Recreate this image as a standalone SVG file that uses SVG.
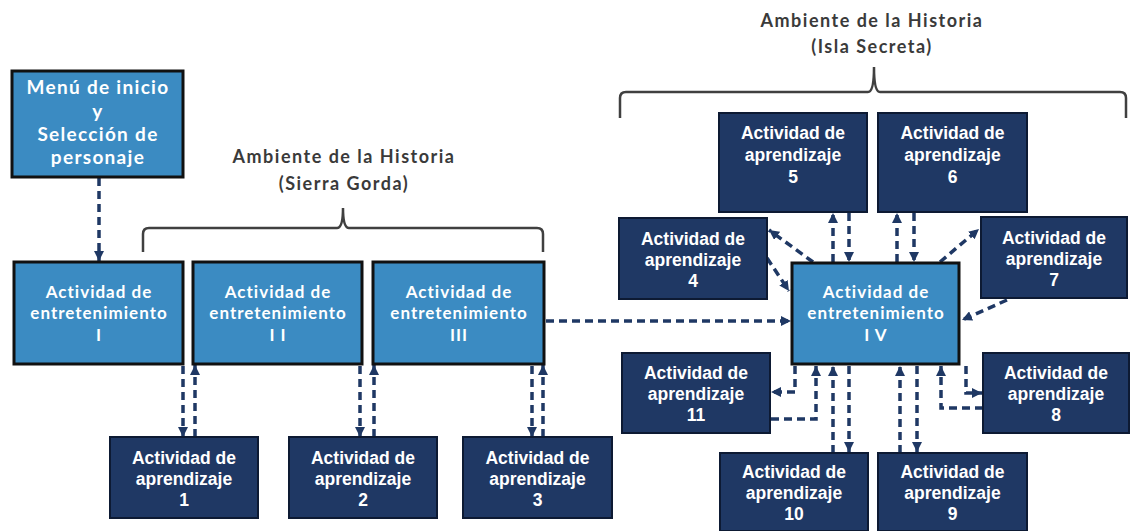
<svg xmlns="http://www.w3.org/2000/svg" width="1130" height="531" viewBox="0 0 1130 531">
<style>
.ent{fill:#3b8bc2;stroke:#111;stroke-width:3}
.apr{fill:#1f3864;stroke:#0d1a33;stroke-width:2}
.te{font-family:Lato,"Liberation Sans",sans-serif;font-weight:bold;font-size:17px;letter-spacing:1px;fill:#fff;text-anchor:middle}
.tm{font-family:Lato,"Liberation Sans",sans-serif;font-weight:bold;font-size:19px;letter-spacing:1.3px;fill:#fff;text-anchor:middle}
.ta{font-family:"Liberation Sans",Arial,sans-serif;font-weight:bold;font-size:17.5px;fill:#fff;text-anchor:middle}
.th{font-family:Lato,"Liberation Sans",sans-serif;font-weight:bold;font-size:18px;letter-spacing:1.5px;fill:#3a3a3a;text-anchor:middle}
.br{fill:none;stroke:#404040;stroke-width:2.5}
.cn{fill:none;stroke:#1f3864;stroke-width:3.5;stroke-dasharray:8 5}
</style>
<defs>
<marker id="ah" viewBox="0 0 10 10" refX="10" refY="5" markerWidth="10" markerHeight="10" markerUnits="userSpaceOnUse" orient="auto">
<path d="M0,0 L10,5 L0,10 z" fill="#1f3864"/>
</marker>
</defs>
<rect width="1130" height="531" fill="#fff"/>

<g id="titles">
<text class="th" x="344" y="163">Ambiente de la Historia</text>
<text class="th" x="344" y="190">(Sierra Gorda)</text>
<text class="th" x="872" y="27">Ambiente de la Historia</text>
<text class="th" x="872" y="53">(Isla Secreta)</text>
<path class="br" d="M143,252 V234 Q143,228 149,228 H337 Q343,228 343,208 Q343,228 349,228 H537 Q543,228 543,234 V252"/>
<path class="br" d="M620,118 V98 Q620,92 626,92 H868 Q874,92 874,67 Q874,92 880,92 H1120 Q1126,92 1126,98 V118"/>
</g>

<g id="connectors">
<path class="cn" marker-end="url(#ah)" d="M99,178 V261"/>
<path class="cn" marker-end="url(#ah)" d="M183,366 V437"/>
<path class="cn" marker-end="url(#ah)" d="M195,437 V365"/>
<path class="cn" marker-end="url(#ah)" d="M360,366 V437"/>
<path class="cn" marker-end="url(#ah)" d="M374,437 V365"/>
<path class="cn" marker-end="url(#ah)" d="M532,366 V437"/>
<path class="cn" marker-end="url(#ah)" d="M543,437 V365"/>
<path class="cn" marker-end="url(#ah)" d="M546,321 H791"/>
<path class="cn" marker-end="url(#ah)" d="M833,262 V213"/>
<path class="cn" marker-end="url(#ah)" d="M849,213 V262"/>
<path class="cn" marker-end="url(#ah)" d="M897,262 V213"/>
<path class="cn" marker-end="url(#ah)" d="M914,213 V262"/>
<path class="cn" marker-end="url(#ah)" d="M813,262 L769,230"/>
<path class="cn" marker-end="url(#ah)" d="M767,258 L789,291"/>
<path class="cn" marker-end="url(#ah)" d="M940,262 L979,229"/>
<path class="cn" marker-end="url(#ah)" d="M1007,300 L962,320"/>
<path class="cn" marker-end="url(#ah)" d="M795,366 V392 H771"/>
<path class="cn" marker-end="url(#ah)" d="M771,419 H816 V366"/>
<path class="cn" marker-end="url(#ah)" d="M833,453 V366"/>
<path class="cn" marker-end="url(#ah)" d="M849,366 V452"/>
<path class="cn" marker-end="url(#ah)" d="M900,453 V366"/>
<path class="cn" marker-end="url(#ah)" d="M917,366 V452"/>
<path class="cn" marker-end="url(#ah)" d="M983,408 H941 V366"/>
<path class="cn" marker-end="url(#ah)" d="M966,366 V393 H982"/>
</g>

<g id="menu">
<rect class="ent" x="12" y="71" width="171" height="106"/>
<text class="tm" x="98" y="94">Menú de inicio</text>
<text class="tm" x="98" y="117.5">y</text>
<text class="tm" x="98" y="141">Selección de</text>
<text class="tm" x="98" y="164">personaje</text>
</g>

<g id="ent1">
<rect class="ent" x="14" y="262" width="169" height="102"/>
<text class="te" x="99" y="298">Actividad de</text>
<text class="te" x="99" y="319">entretenimiento</text>
<text class="te" x="99" y="341">I</text>
</g>
<g id="ent2">
<rect class="ent" x="193" y="262" width="169" height="102"/>
<text class="te" x="278" y="298">Actividad de</text>
<text class="te" x="278" y="319">entretenimiento</text>
<text class="te" x="278" y="341">I I</text>
</g>
<g id="ent3">
<rect class="ent" x="373" y="262" width="171" height="102"/>
<text class="te" x="459" y="298">Actividad de</text>
<text class="te" x="459" y="319">entretenimiento</text>
<text class="te" x="459" y="341">III</text>
</g>
<g id="ent4">
<rect class="ent" x="792" y="263" width="167" height="101"/>
<text class="te" x="876" y="298">Actividad de</text>
<text class="te" x="876" y="319">entretenimiento</text>
<text class="te" x="876" y="341">I V</text>
</g>

<g id="apr1">
<rect class="apr" x="110" y="437" width="148" height="81"/>
<text class="ta" x="184" y="464">Actividad de</text>
<text class="ta" x="184" y="485">aprendizaje</text>
<text class="ta" x="184" y="506">1</text>
</g>
<g id="apr2">
<rect class="apr" x="289" y="437" width="148" height="81"/>
<text class="ta" x="363" y="464">Actividad de</text>
<text class="ta" x="363" y="485">aprendizaje</text>
<text class="ta" x="363" y="506">2</text>
</g>
<g id="apr3">
<rect class="apr" x="463" y="437" width="149" height="81"/>
<text class="ta" x="537.5" y="464">Actividad de</text>
<text class="ta" x="537.5" y="485">aprendizaje</text>
<text class="ta" x="537.5" y="506">3</text>
</g>
<g id="apr4">
<rect class="apr" x="619" y="218" width="148" height="81"/>
<text class="ta" x="693" y="245">Actividad de</text>
<text class="ta" x="693" y="266">aprendizaje</text>
<text class="ta" x="693" y="287">4</text>
</g>
<g id="apr5">
<rect class="apr" x="719" y="113" width="148" height="99"/>
<text class="ta" x="793" y="139">Actividad de</text>
<text class="ta" x="793" y="161">aprendizaje</text>
<text class="ta" x="793" y="183">5</text>
</g>
<g id="apr6">
<rect class="apr" x="878" y="113" width="149" height="99"/>
<text class="ta" x="952.5" y="139">Actividad de</text>
<text class="ta" x="952.5" y="161">aprendizaje</text>
<text class="ta" x="952.5" y="183">6</text>
</g>
<g id="apr7">
<rect class="apr" x="981" y="217" width="146" height="81"/>
<text class="ta" x="1054" y="244">Actividad de</text>
<text class="ta" x="1054" y="265">aprendizaje</text>
<text class="ta" x="1054" y="286">7</text>
</g>
<g id="apr8">
<rect class="apr" x="983" y="353" width="146" height="80"/>
<text class="ta" x="1056" y="379">Actividad de</text>
<text class="ta" x="1056" y="400">aprendizaje</text>
<text class="ta" x="1056" y="421">8</text>
</g>
<g id="apr9">
<rect class="apr" x="878" y="453" width="149" height="78"/>
<text class="ta" x="952.5" y="478">Actividad de</text>
<text class="ta" x="952.5" y="499">aprendizaje</text>
<text class="ta" x="952.5" y="520">9</text>
</g>
<g id="apr10">
<rect class="apr" x="720" y="453" width="148" height="78"/>
<text class="ta" x="794" y="478">Actividad de</text>
<text class="ta" x="794" y="499">aprendizaje</text>
<text class="ta" x="794" y="520">10</text>
</g>
<g id="apr11">
<rect class="apr" x="622" y="353" width="148" height="80"/>
<text class="ta" x="696" y="379">Actividad de</text>
<text class="ta" x="696" y="400">aprendizaje</text>
<text class="ta" x="696" y="421">11</text>
</g>
</svg>
